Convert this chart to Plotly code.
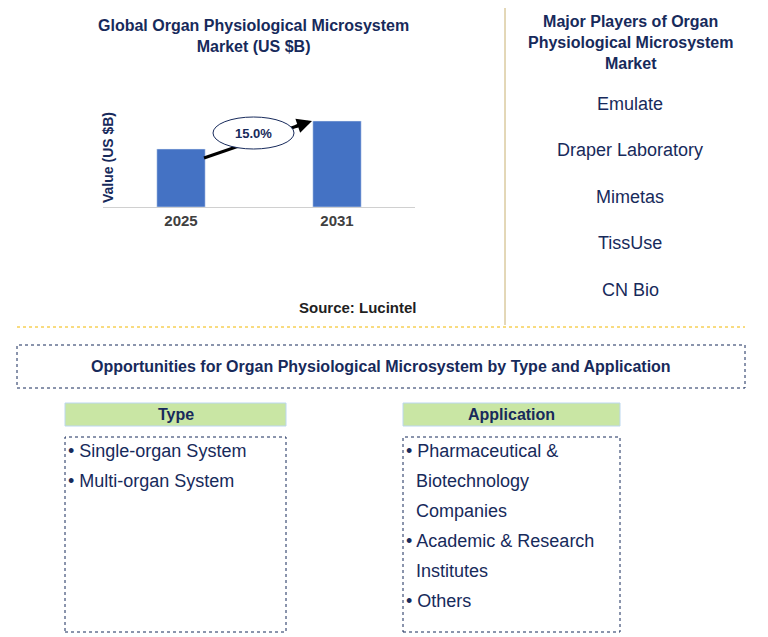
import plotly.graph_objects as go

W, H = 768, 637
OFF = 8  # page body margin
years = ["2025", "2031"]
values = [5.8, 8.6]
cagr = "15.0%"
players = ["Emulate", "Draper Laboratory", "Mimetas", "TissUse", "CN Bio"]
types = ["Single-organ System", "Multi-organ System"]
applications = ["Pharmaceutical &", "Biotechnology", "Companies", "Academic & Research", "Institutes", "Others"]
app_bullets = [True, False, False, True, False, True]

NAVY = "#172a5b"
FONT = "Arial, Liberation Sans, sans-serif"

def px(x):
    return (x - OFF) / W

def py(y):
    return 1 - (y - OFF) / H

fig = go.Figure()
fig.add_trace(go.Bar(x=years, y=values, marker_color="#4472c4", width=0.31,
                     hoverinfo="skip"))

shapes = []
ann = []

def rect(x0, y0, x1, y1, line=None, fill=None):
    shapes.append(dict(type="rect", xref="paper", yref="paper",
                       x0=px(x0), x1=px(x1), y0=py(y1), y1=py(y0),
                       line=line or dict(width=0), fillcolor=fill))

def text(x, y, s, size=14, color=NAVY, bold=False, xanchor="center", angle=0):
    ann.append(dict(xref="paper", yref="paper", x=px(x), y=py(y), text=f"<b>{s}</b>" if bold else s,
                    showarrow=False, xanchor=xanchor, yanchor="middle", textangle=angle,
                    font=dict(size=size, color=color, family=FONT)))

# titles
text(253, 36, "Global Organ Physiological Microsystem<br>Market (US $B)", 16, bold=True)
text(630, 42, "Major Players of Organ<br>Physiological Microsystem<br>Market", 16, bold=True)
text(358, 307, "Source: Lucintel", 15, color="#1f1f1f", bold=True)
text(108, 158, "Value (US $B)", 14, bold=True, angle=-90)
for i, p in enumerate(players):
    text(630, 104 + i * 46.5, p, 18, color=NAVY)

# CAGR arrow (line under ellipse, head above)
shapes.append(dict(type="line", xref="paper", yref="paper", x0=px(204), y0=py(158),
                   x1=px(300), y1=py(125), line=dict(color="black", width=3)))
ann.append(dict(xref="paper", yref="paper", x=px(312), y=py(121), ax=-18, ay=6,
                showarrow=True, arrowhead=2, arrowsize=1,
                arrowwidth=3, arrowcolor="black", text=""))
shapes.append(dict(type="circle", xref="paper", yref="paper", x0=px(213), x1=px(294),
                   y0=py(149), y1=py(117), fillcolor="white", line=dict(color=NAVY, width=1)))
text(253, 133, cagr, 13, bold=True)

# dividers
gold = dict(color="#f2b800", width=1, dash="dot")
shapes.append(dict(type="line", xref="paper", yref="paper", x0=px(505), x1=px(505),
                   y0=py(5), y1=py(325), line=dict(color="#c8b070", width=1)))
shapes.append(dict(type="line", xref="paper", yref="paper", x0=px(17), x1=px(745),
                   y0=py(327), y1=py(327), line=gold))

dot = dict(color=NAVY, width=1, dash="dot")
rect(17, 345, 745, 388, line=dot)
text(381, 366, "Opportunities for Organ Physiological Microsystem by Type and Application", 16, bold=True)

for x0, x1, head in [(65, 286, "Type"), (403, 620, "Application")]:
    rect(x0, 403, x1, 426, line=dict(color="#bcd7f0", width=1), fill="#c9e6a4")
    text((x0 + x1) / 2, 414, head, 16, bold=True)
    rect(x0, 437, x1, 632, line=dot)

for i, t in enumerate(types):
    text(66, 451 + i * 30, "• " + t, 18, xanchor="left")
for i, (t, b) in enumerate(zip(applications, app_bullets)):
    if b:
        text(404, 451 + i * 30, "• " + t, 18, xanchor="left")
    else:
        text(414, 451 + i * 30, t, 18, xanchor="left")

fig.update_layout(
    width=W, height=H, margin=dict(l=0, r=0, t=0, b=0),
    paper_bgcolor="white", plot_bgcolor="white", showlegend=False,
    shapes=shapes, annotations=ann,
    xaxis=dict(domain=[px(103), px(415)], showgrid=False, showline=True, linecolor="#d0d0d0",
               tickfont=dict(size=15, color="#404040", family=FONT), ticks="",
               tickprefix="<b>", ticksuffix="</b>"),
    yaxis=dict(domain=[py(207), py(110)], range=[0, 9.7], showgrid=False, showticklabels=False,
               zeroline=False),
)

fig.write_html("out.html")
